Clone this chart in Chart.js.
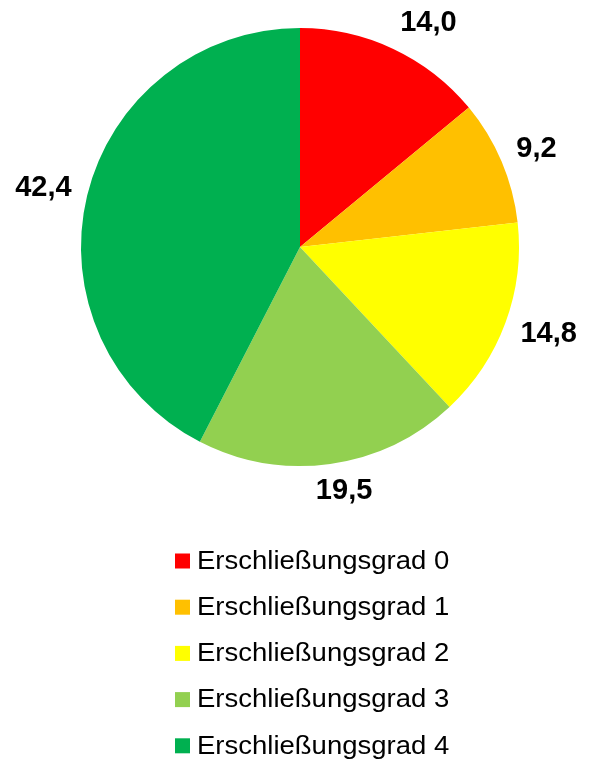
<!DOCTYPE html>
<html>
<head>
<meta charset="utf-8">
<script src="https://cdn.jsdelivr.net/npm/chart.js@4"></script>
<style>
    html, body { margin: 0; padding: 0; background: #ffffff; }
    #wrap { width: 589px; height: 759px; position: relative; }
</style>
</head>
<body>
<div id="wrap"><canvas id="pieChart" width="589" height="759"></canvas></div>
<script>
// Anteile je Erschließungsgrad (%)
const categories = ['Erschließungsgrad 0', 'Erschließungsgrad 1', 'Erschließungsgrad 2', 'Erschließungsgrad 3', 'Erschließungsgrad 4'];
const values = [14.0, 9.2, 14.8, 19.5, 42.4];
const colors = ['#ff0000', '#ffc000', '#ffff00', '#92d050', '#00b050'];

const fmt = v => v.toFixed(1).replace('.', ',');
const clamp = v => Math.max(-1, Math.min(1, v));

// Werte außen an den Segmenten
const outsideLabels = {
    id: 'outsideLabels',
    afterDatasetsDraw(chart) {
        const ctx = chart.ctx;
        const meta = chart.getDatasetMeta(0);
        ctx.save();
        ctx.font = 'bold 29px "Liberation Sans", Arial, sans-serif';
        ctx.fillStyle = '#000000';
        ctx.textAlign = 'center';
        ctx.textBaseline = 'middle';
        meta.data.forEach((arc, i) => {
            const mid = (arc.startAngle + arc.endAngle) / 2;
            const ux = Math.cos(mid), uy = Math.sin(mid);
            const d = arc.outerRadius + 16;
            const text = fmt(values[i]);
            const w = ctx.measureText(text).width;
            const h = 22;
            const x = arc.x + ux * d + clamp(ux * 3) * w / 2;
            const y = arc.y + uy * d + clamp(uy * 1.5) * h / 2;
            ctx.fillText(text, x, y);
        });
        ctx.restore();
    }
};

// Legende untereinander, mittig unter dem Diagramm
const stackedLegend = {
    id: 'stackedLegend',
    afterDraw(chart) {
        const ctx = chart.ctx;
        ctx.save();
        ctx.font = '25px "Liberation Sans", Arial, sans-serif';
        ctx.textBaseline = 'middle';
        ctx.textAlign = 'left';
        const left = 175, top = 561, step = 46.2, box = 15;
        categories.forEach((name, i) => {
            const y = top + i * step;
            ctx.fillStyle = colors[i];
            ctx.fillRect(left, y - box / 2, box, box);
            ctx.fillStyle = '#000000';
            ctx.save();
            ctx.translate(left + 22, y + 1);
            ctx.scale(1.1, 1);
            ctx.fillText(name, 0, 0);
            ctx.restore();
        });
        ctx.restore();
    }
};

new Chart(document.getElementById('pieChart'), {
    type: 'pie',
    data: {
        labels: categories,
        datasets: [{
            data: values,
            backgroundColor: colors,
            borderWidth: 0
        }]
    },
    options: {
        responsive: false,
        animation: false,
        layout: { padding: { left: 81, right: 70, top: 28, bottom: 293 } },
        plugins: {
            legend: { display: false },
            tooltip: { enabled: false }
        }
    },
    plugins: [outsideLabels, stackedLegend]
});
</script>
</body>
</html>
